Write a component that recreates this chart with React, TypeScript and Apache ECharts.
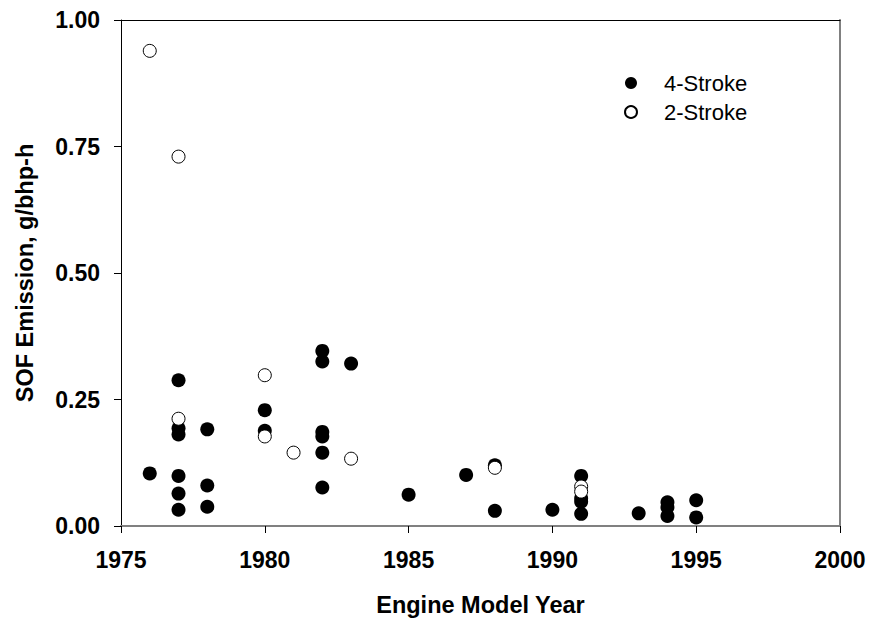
import React, { useEffect, useRef } from "react";
import * as echarts from "echarts";

const fourStrokeYears = [1976, 1977, 1977, 1977, 1977, 1977, 1977, 1978, 1978, 1978, 1980, 1980, 1982, 1982, 1982, 1982, 1982, 1982, 1983, 1985, 1987, 1988, 1988, 1990, 1991, 1991, 1991, 1991, 1993, 1994, 1994, 1994, 1995, 1995];
const fourStrokeValues = [0.104, 0.288, 0.193, 0.181, 0.099, 0.064, 0.032, 0.191, 0.08, 0.038, 0.229, 0.188, 0.346, 0.325, 0.186, 0.177, 0.145, 0.076, 0.321, 0.062, 0.101, 0.12, 0.03, 0.032, 0.099, 0.055, 0.048, 0.024, 0.025, 0.047, 0.037, 0.02, 0.051, 0.017];

const twoStrokeYears = [1976, 1977, 1977, 1980, 1980, 1981, 1983, 1988, 1991, 1991];
const twoStrokeValues = [0.939, 0.73, 0.212, 0.298, 0.177, 0.145, 0.133, 0.115, 0.078, 0.068];

const xTicks = [1975, 1980, 1985, 1990, 1995, 2000];
const yTicks = [0, 0.25, 0.5, 0.75, 1.0];

const FONT = '"Liberation Sans", Arial, sans-serif';

export default function App() {
  const ref = useRef<HTMLDivElement>(null);
  useEffect(() => {
    document.body.style.margin = "0";
    if (!ref.current) return;
    const chart = echarts.init(ref.current, undefined, { renderer: "svg" });
    const fourData = fourStrokeYears.map((y, i) => [y, fourStrokeValues[i]]);
    const twoData = twoStrokeYears.map((y, i) => [y, twoStrokeValues[i]]);
    chart.setOption({
      animation: false,
      backgroundColor: "#ffffff",
      textStyle: { fontFamily: FONT },
      grid: { left: 121, right: 32, top: 20, bottom: 95 },
      legend: {
        orient: "vertical",
        left: 619,
        top: 67,
        itemWidth: 12,
        itemHeight: 12,
        itemGap: 7,
        icon: "circle",
        textStyle: { fontFamily: FONT, fontSize: 22, color: "#000", padding: [0, 0, 0, 22] },
        data: ["4-Stroke", "2-Stroke"],
      },
      xAxis: [
        {
          type: "value",
          min: xTicks[0],
          max: xTicks[xTicks.length - 1],
          interval: 5,
          position: "bottom",
          name: "Engine Model Year",
          nameLocation: "middle",
          nameGap: 67,
          nameTextStyle: { fontFamily: FONT, fontSize: 23.5, fontWeight: "bold", color: "#000" },
          axisLine: { show: true, onZero: false, lineStyle: { color: "#808080", width: 2 } },
          axisTick: { show: true, length: 7, lineStyle: { color: "#000", width: 1 } },
          axisLabel: {
            fontFamily: FONT,
            fontSize: 23,
            fontWeight: "bold",
            color: "#000",
            margin: 22,
            formatter: (v: number) => String(v),
          },
          splitLine: { show: false },
        },
        {
          type: "value",
          min: xTicks[0],
          max: xTicks[xTicks.length - 1],
          interval: 5,
          position: "top",
          axisLine: { show: true, onZero: false, lineStyle: { color: "#000", width: 1 } },
          axisTick: { show: false },
          axisLabel: { show: false },
          splitLine: { show: false },
        },
      ],
      yAxis: [
        {
          type: "value",
          min: yTicks[0],
          max: yTicks[yTicks.length - 1],
          interval: 0.25,
          position: "left",
          name: "SOF Emission, g/bhp-h",
          nameLocation: "middle",
          nameGap: 84,
          nameTextStyle: { fontFamily: FONT, fontSize: 23.5, fontWeight: "bold", color: "#000" },
          axisLine: { show: true, onZero: false, lineStyle: { color: "#000", width: 1 } },
          axisTick: { show: true, length: 7, lineStyle: { color: "#000", width: 1 } },
          axisLabel: {
            fontFamily: FONT,
            fontSize: 23,
            fontWeight: "bold",
            color: "#000",
            margin: 21,
            formatter: (v: number) => v.toFixed(2),
          },
          splitLine: { show: false },
        },
        {
          type: "value",
          min: yTicks[0],
          max: yTicks[yTicks.length - 1],
          interval: 0.25,
          position: "right",
          axisLine: { show: true, onZero: false, lineStyle: { color: "#808080", width: 2 } },
          axisTick: { show: false },
          axisLabel: { show: false },
          splitLine: { show: false },
        },
      ],
      series: [
        {
          name: "4-Stroke",
          type: "scatter",
          xAxisIndex: 0,
          yAxisIndex: 0,
          symbol: "circle",
          symbolSize: 14,
          itemStyle: { color: "#000", borderColor: "#000", borderWidth: 0, opacity: 1 },
          data: fourData,
        },
        {
          name: "2-Stroke",
          type: "scatter",
          xAxisIndex: 0,
          yAxisIndex: 0,
          symbol: "circle",
          symbolSize: 13,
          itemStyle: { color: "#fff", borderColor: "#000", borderWidth: 1, opacity: 1 },
          data: twoData,
        },
      ],
    });
    return () => chart.dispose();
  }, []);
  return <div ref={ref} style={{ width: 872, height: 622 }} />;
}
